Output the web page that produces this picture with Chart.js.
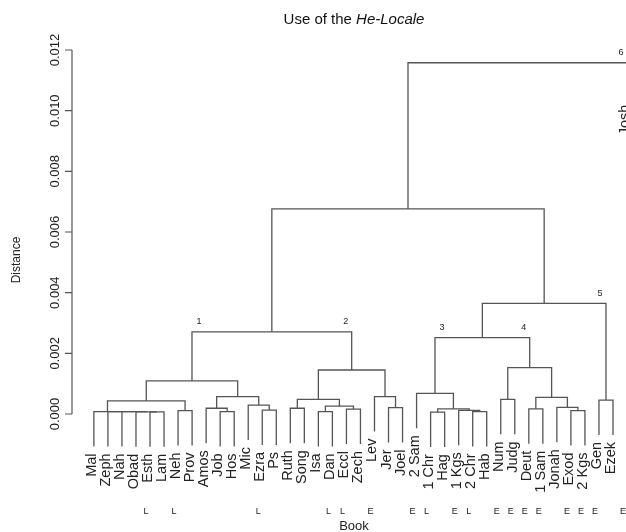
<!DOCTYPE html>
<html lang="en">
<head>
    <meta charset="UTF-8">
    <title>Use of the He-Locale</title>
    <!-- Chart.js -->
    <script src="https://cdn.jsdelivr.net/npm/chart.js"></script>
    <style>
        html, body { margin: 0; padding: 0; overflow: hidden; background: #fff; }
        /* the figure is wider than the window, like the cropped original */
        .chart-box { position: relative; width: 660px; height: 532px; }
    </style>
</head>
<body>
    <div class="chart-box"><canvas id="dendro"></canvas></div>

    <script>
        // Leaves of the tree, in plotting order
        const books = ['Mal', 'Zeph', 'Nah', 'Obad', 'Esth', 'Lam', 'Neh', 'Prov', 'Amos', 'Job',
            'Hos', 'Mic', 'Ezra', 'Ps', 'Ruth', 'Song', 'Isa', 'Dan', 'Eccl', 'Zech',
            'Lev', 'Jer', 'Joel', '2 Sam', '1 Chr', 'Hag', '1 Kgs', '2 Chr', 'Hab', 'Num',
            'Judg', 'Deut', '1 Sam', 'Jonah', 'Exod', '2 Kgs', 'Gen', 'Ezek', 'Josh'];
        // E = early, L = late (row under the labels)
        const period = ['', '', '', '', 'L', '', 'L', '', '', '',
            '', '', 'L', '', '', '', '', 'L', 'L', '',
            'E', '', '', 'E', 'L', '', 'E', 'L', '', 'E',
            'E', 'E', 'E', '', 'E', 'E', 'E', '', 'E'];

        // Merges like R's hclust: negative = leaf number, positive = earlier merge number
        const mergeLeft  = [-5, -4, -3, -2, -1, -7, 5, -10, -9, -13,
            -12, 9, 7, -15, -17, -19, 15, 14, -22, -21,
            18, 13, -25, -28, -27, 23, -24, -30, -32, -35,
            -34, 29, 28, 27, -37, 34, 22, 37];
        const mergeRight = [-6, 1, 2, 3, 4, -8, 6, -11, 8, -14,
            10, 11, 12, -16, -18, -20, 16, 17, -23, 19,
            20, 21, -26, -29, 24, 25, 26, -31, -33, -36,
            30, 31, 32, 33, -38, 35, 36, -39];
        const mergeHeight = [0.00007, 0.00007, 0.00008, 0.00008, 0.00008, 0.00011, 0.00043, 0.00008, 0.00019, 0.00013,
            0.00029, 0.00057, 0.00109, 0.00019, 0.00008, 0.00016, 0.00026, 0.00048, 0.00021, 0.00057,
            0.00145, 0.00271, 0.00006, 0.00008, 0.00012, 0.00017, 0.00068, 0.00048, 0.00017, 0.00011,
            0.00022, 0.00055, 0.00153, 0.00252, 0.00046, 0.00365, 0.00676, 0.01158];
        const hang = 0.00115;

        // numbered clusters (node whose stem gets the number)
        const clusterNodes = [13, 21, 27, 33, 35, -39];
        const clusterNames = ['1', '2', '3', '4', '5', '6'];

        const yTicks = [0, 0.002, 0.004, 0.006, 0.008, 0.010, 0.012];
        const yTickLabels = ['0.000', '0.002', '0.004', '0.006', '0.008', '0.010', '0.012'];

        // x position of a node (leaf number, or middle of its two children)
        function nodeX(id) {
            if (id < 0) return -id - 1;
            return (nodeX(mergeLeft[id - 1]) + nodeX(mergeRight[id - 1])) / 2;
        }
        // height where the stem of a node ends at the bottom
        function stemBottom(id, parentH) {
            return id < 0 ? parentH - hang : mergeHeight[id - 1];
        }
        // height of the parent of a node
        function parentHeight(id) {
            for (let k = 0; k < mergeLeft.length; k++) {
                if (mergeLeft[k] === id || mergeRight[k] === id) return mergeHeight[k];
            }
            return null;
        }

        // one dataset for every merge: left stem, bar, right stem
        const datasets = mergeHeight.map((h, k) => {
            const a = mergeLeft[k], b = mergeRight[k];
            return {
                data: [
                    { x: nodeX(a), y: stemBottom(a, h) },
                    { x: nodeX(a), y: h },
                    { x: nodeX(b), y: h },
                    { x: nodeX(b), y: stemBottom(b, h) }
                ],
                showLine: true,
                borderColor: '#555',
                borderWidth: 1.3,
                pointRadius: 0,
                tension: 0
            };
        });

        const textFont = '"Liberation Sans", Arial, Helvetica, sans-serif';

        function rotatedText(ctx, text, x, y, align) {
            ctx.save();
            ctx.translate(x, y);
            ctx.rotate(-Math.PI / 2);
            ctx.textAlign = align;
            ctx.textBaseline = 'middle';
            ctx.fillText(text, 0, 0);
            ctx.restore();
        }

        const treeText = {
            id: 'treeText',
            afterDraw(chart) {
                const { ctx } = chart;
                const xs = chart.scales.x, ys = chart.scales.y;
                const axisX = xs.left;
                ctx.save();

                // y axis, R style
                ctx.strokeStyle = '#555';
                ctx.lineWidth = 1.2;
                ctx.beginPath();
                ctx.moveTo(axisX, ys.getPixelForValue(yTicks[0]));
                ctx.lineTo(axisX, ys.getPixelForValue(yTicks[yTicks.length - 1]));
                yTicks.forEach(t => {
                    const py = ys.getPixelForValue(t);
                    ctx.moveTo(axisX, py);
                    ctx.lineTo(axisX - 7, py);
                });
                ctx.stroke();

                ctx.fillStyle = '#222';
                ctx.font = '13px ' + textFont;
                yTicks.forEach((t, i) => rotatedText(ctx, yTickLabels[i], axisX - 17, ys.getPixelForValue(t), 'center'));
                ctx.font = '12px ' + textFont;
                rotatedText(ctx, 'Distance', 17, 260, 'center');

                // leaf labels hanging under the stems
                ctx.font = '14.5px ' + textFont;
                books.forEach((name, i) => {
                    const bottom = parentHeight(-(i + 1)) - hang;
                    rotatedText(ctx, name, xs.getPixelForValue(i) - 2, ys.getPixelForValue(bottom) + 7, 'right');
                });

                // early / late row
                ctx.font = '9px ' + textFont;
                ctx.textAlign = 'center';
                ctx.textBaseline = 'middle';
                period.forEach((p, i) => {
                    if (p) ctx.fillText(p, xs.getPixelForValue(i) - 4, 512);
                });

                // cluster numbers above the stems
                clusterNodes.forEach((id, i) => {
                    const h = parentHeight(id);
                    const isLeft = mergeLeft.indexOf(id) >= 0;
                    const px = xs.getPixelForValue(nodeX(id)) + (isLeft ? 7 : -6);
                    ctx.fillText(clusterNames[i], px, ys.getPixelForValue(h) - 10);
                });

                // axis title and main title
                ctx.font = '13px ' + textFont;
                ctx.fillText('Book', 354, 526);

                const part1 = 'Use of the ', part2 = 'He-Locale';
                ctx.font = '15px ' + textFont;
                const w1 = ctx.measureText(part1).width;
                ctx.font = 'italic 15px ' + textFont;
                const w2 = ctx.measureText(part2).width;
                const startX = 354 - (w1 + w2) / 2;
                ctx.textAlign = 'left';
                ctx.fillStyle = '#111';
                ctx.font = '15px ' + textFont;
                ctx.fillText(part1, startX, 20);
                ctx.font = 'italic 15px ' + textFont;
                ctx.fillText(part2, startX + w1, 20);

                ctx.restore();
            }
        };

        new Chart(document.getElementById('dendro'), {
            type: 'scatter',
            data: { datasets },
            options: {
                responsive: true,
                maintainAspectRatio: false,
                animation: false,
                layout: { padding: { left: 72, right: 0, top: 40, bottom: 62 } },
                plugins: { legend: { display: false }, tooltip: { enabled: false } },
                scales: {
                    x: { type: 'linear', min: -1.56, max: 40.35, display: false },
                    y: { type: 'linear', min: -0.001846, max: 0.01233, display: false }
                }
            },
            plugins: [treeText]
        });
    </script>
</body>
</html>
